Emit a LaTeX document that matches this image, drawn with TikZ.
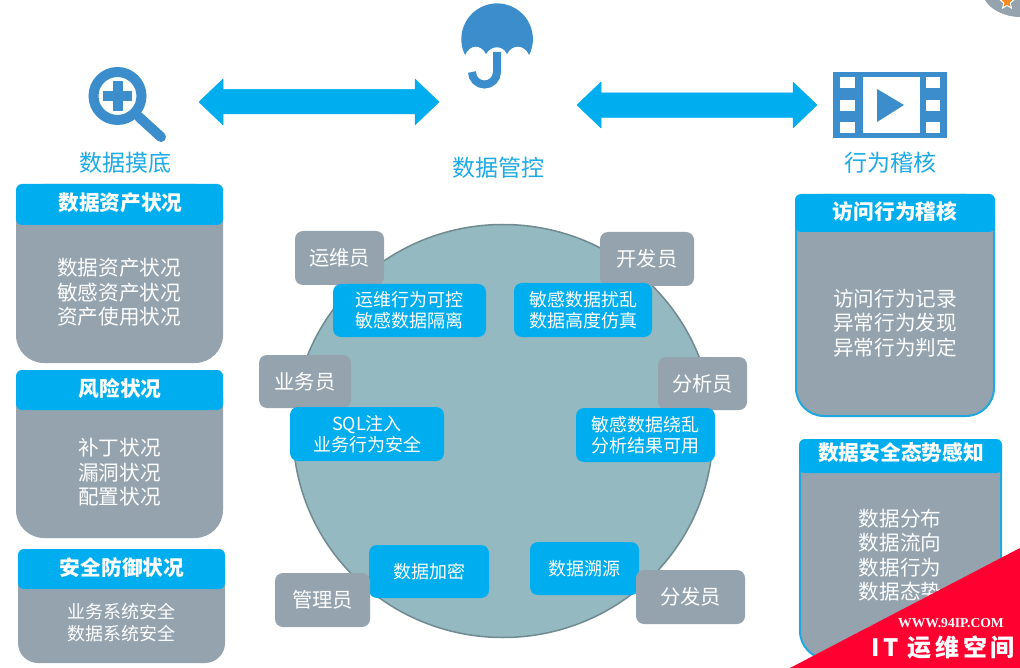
\documentclass[tikz,border=0pt]{standalone}
\usepackage{fontspec}
\setmainfont{Noto Sans CJK SC}
\newfontfamily\wmserif{Liberation Serif}
\usetikzlibrary{shapes.geometric}
\definecolor{hdrblue}{HTML}{00AEEF}
\definecolor{slategray}{HTML}{94A3AE}
\definecolor{iconblue}{HTML}{3B8DCB}
\definecolor{titleblue}{HTML}{1DAAE6}
\definecolor{edgeblue}{HTML}{1FA8DF}
\definecolor{discfill}{HTML}{94B9C0}
\definecolor{discedge}{HTML}{6F8A90}
\definecolor{bannerred}{HTML}{FF0030}
\definecolor{staror}{HTML}{F58A1F}
\newcommand{\fsz}[2]{\fontsize{#1}{#2}\selectfont}
\tikzset{
  every node/.style={inner sep=0pt,outer sep=0pt,align=center},
  bodybox/.style={fill=slategray,rounded corners=28pt},
  hdrbox/.style={fill=hdrblue,rounded corners=6pt},
  hdrtext/.style={text=white,font=\fsz{20.7}{24}\bfseries},
  bodytext/.style={text=white,font=\fsz{20.6}{24.5}},
  title/.style={text=titleblue,font=\fsz{23}{26}},
  rolebox/.style={fill=slategray,rounded corners=8pt,text=white,font=\fsz{20.3}{24}},
  tagbox/.style={fill=hdrblue,rounded corners=8pt,text=white,font=\fsz{18}{21.3}},
  icon/.style={fill=iconblue,draw=none},
  blockarrow/.style={fill=hdrblue,draw=hdrblue,line width=0.5pt,line join=round},
}
\begin{document}
\begin{tikzpicture}[x=1pt,y=-1pt]
\useasboundingbox[fill=white] (0,0) rectangle (1020,668);

% top-right corner fragment
\fill[slategray] (985,0) .. controls (990,9) and (1004,17) .. (1020,17) -- (1020,0) -- cycle;
\node[star,star points=5,star point ratio=2.2,minimum size=15pt,fill=staror,draw=white,line width=1pt] (cornerstar) at (1007,2) {};

% magnifier icon
\draw[iconblue,line width=10pt] (117.5,96) circle[radius=24];
\draw[iconblue,line width=10pt,line cap=round] (139,117) -- (161,137);
\fill[icon] (112.5,81) rectangle (122.5,111);
\fill[icon] (103,91) rectangle (132,101);
\node[title] (tdisc) at (125,163) {数据摸底};

% umbrella icon
\fill[icon] (465,55) arc[start angle=153.8,end angle=386.2,radius=35.8]
  .. controls (524,44) and (512,44) .. (507,54)
  .. controls (503,45) and (491,45) .. (486,54)
  .. controls (481,44) and (470,44) .. (465,55) -- cycle;
\draw[iconblue,line width=8pt] (497,52) -- (497,72) arc[start angle=0,end angle=180,radius=12.5];
\node[title] (tctrl) at (498,168) {数据管控};

% film icon
\fill[icon] (833,72) rectangle (947,138);
\fill[white] (863,77) rectangle (920,133);
\foreach \yy in {77,100,122}{
  \fill[white] (840,\yy) rectangle ++(15,11.5);
  \fill[white] (926,\yy) rectangle ++(14,11.5);
}
\fill[icon] (877,89) -- (904,105) -- (877,122) -- cycle;
\node[title] (taudit) at (890,163) {行为稽核};

% block arrows
\draw[blockarrow] (199,102) -- (223,79) -- (223,89.5) -- (415,89.5) -- (415,79) -- (439,102) -- (415,125) -- (415,114) -- (223,114) -- (223,125) -- cycle;
\draw[blockarrow] (577,105) -- (601,82) -- (601,93) -- (793,93) -- (793,82) -- (817,105) -- (793,128) -- (793,117.5) -- (601,117.5) -- (601,128) -- cycle;

% left column
\node[bodybox,minimum width=207pt,minimum height=179pt] (b1) at (119.5,273.5) {};
\node[hdrbox,minimum width=207pt,minimum height=41pt] (h1) at (119.5,204.5) {};
\node[hdrtext] (h1t) at (120.5,202.5) {数据资产状况};
\node[bodytext] (b1t) at (119,292.5) {数据资产状况\\敏感资产状况\\资产使用状况};

\node[bodybox,minimum width=207pt,minimum height=168pt] (b2) at (119.5,454) {};
\node[hdrbox,minimum width=207pt,minimum height=40pt] (h2) at (119.5,390) {};
\node[hdrtext] (h2t) at (120,389) {风险状况};
\node[bodytext] (b2t) at (119.5,472.5) {补丁状况\\漏洞状况\\配置状况};

\node[bodybox,rounded corners=20pt,minimum width=207pt,minimum height=114pt] (b3) at (121.5,606) {};
\node[hdrbox,minimum width=207pt,minimum height=40pt] (h3) at (121.5,569) {};
\node[hdrtext] (h3t) at (122,568) {安全防御状况};
\node[bodytext,font=\fsz{18}{22}] (b3t) at (121,622.5) {业务系统安全\\数据系统安全};

% right column
\node[bodybox,draw=edgeblue,line width=2pt,minimum width=198pt,minimum height=221pt] (r1) at (895,305.5) {};
\node[hdrbox,minimum width=200pt,minimum height=38pt] (rh1) at (895,213) {};
\node[hdrtext] (rh1t) at (895,212) {访问行为稽核};
\node[bodytext] (r1t) at (895,323) {访问行为记录\\异常行为发现\\异常行为判定};

\node[bodybox,draw=edgeblue,line width=2pt,minimum width=201pt,minimum height=219pt] (r2) at (900.5,549.5) {};
\node[hdrbox,minimum width=203pt,minimum height=34pt] (rh2) at (900.5,456) {};
\node[hdrtext] (rh2t) at (901,453) {数据安全态势感知};
\node[bodytext] (r2t) at (900,555) {数据分布\\数据流向\\数据行为\\数据态势};

% central disc
\node[ellipse,fill=discfill,draw=discedge,line width=1.5pt,minimum width=420pt,minimum height=413pt] (disc) at (503,431) {};

\node[rolebox,minimum width=89pt,minimum height=54pt] (ops) at (339.5,258) {运维员};
\node[tagbox,minimum width=153pt,minimum height=53pt] (opst) at (409.5,310.5) {运维行为可控\\敏感数据隔离};
\node[rolebox,minimum width=92pt,minimum height=53pt] (biz) at (305,381.5) {业务员};
\node[tagbox,minimum width=154pt,minimum height=54pt] (bizt) at (367,434) {SQL注入\\业务行为安全};
\node[rolebox,minimum width=94pt,minimum height=54pt] (dev) at (647,259) {开发员};
\node[tagbox,minimum width=138pt,minimum height=54pt] (devt) at (583,310) {敏感数据扰乱\\数据高度仿真};
\node[rolebox,minimum width=89pt,minimum height=53pt] (ana) at (702.5,383.5) {分析员};
\node[tagbox,minimum width=139pt,minimum height=54pt] (anat) at (645.5,435) {敏感数据绕乱\\分析结果可用};
\node[tagbox,minimum width=120pt,minimum height=53pt] (enct) at (429,571.5) {数据加密};
\node[rolebox,minimum width=95pt,minimum height=54pt] (adm) at (322.5,600) {管理员};
\node[tagbox,minimum width=109pt,minimum height=53pt] (srct) at (584.5,568.5) {数据溯源};
\node[rolebox,minimum width=109pt,minimum height=54pt] (dist) at (690.5,597) {分发员};

% watermark banner
\fill[bannerred] (1020,548) -- (1020,668) -- (790,668) -- cycle;
\node[text=white,font=\fsz{13.6}{15}\wmserif\bfseries] (wmurl) at (951,623.5) {WWW.94IP.COM};
\node[text=white,font=\fsz{24}{26}\bfseries] (wmname) at (943,647) {I\kern3pt T\kern9pt 运\kern4pt 维\kern4pt 空\kern3pt 间};
\end{tikzpicture}
\end{document}
